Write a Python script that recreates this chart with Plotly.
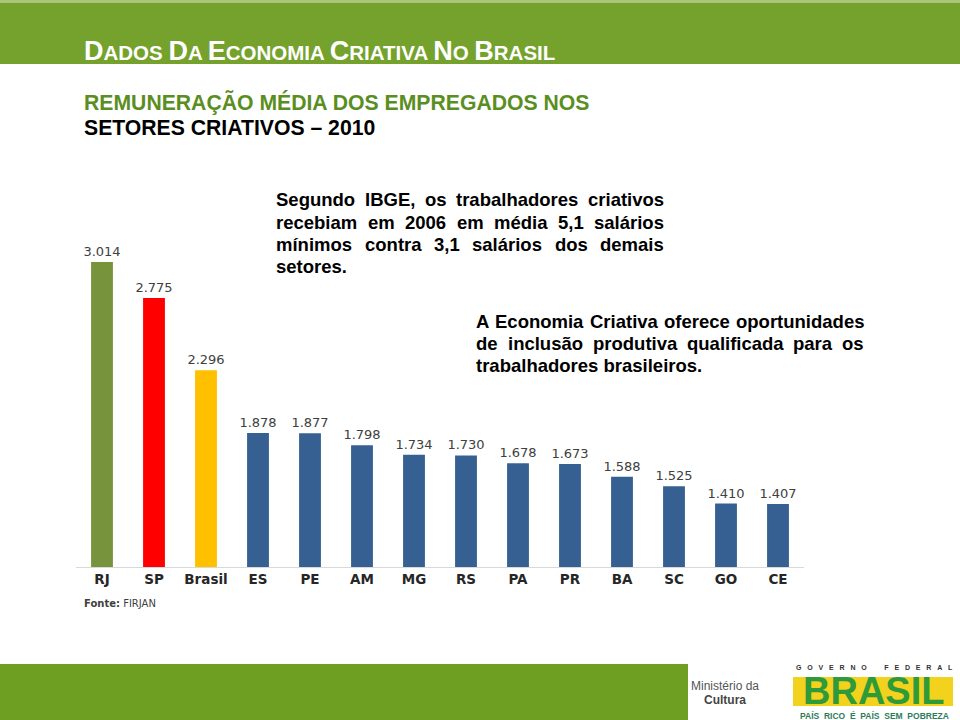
import plotly.graph_objects as go

# ---------------- data ----------------
categories = ["RJ", "SP", "Brasil", "ES", "PE", "AM", "MG", "RS", "PA", "PR", "BA", "SC", "GO", "CE"]
values = [3014, 2775, 2296, 1878, 1877, 1798, 1734, 1730, 1678, 1673, 1588, 1525, 1410, 1407]
bar_colors = ["#77933C", "#FF0000", "#FFC000"] + ["#376092"] * 11

title_text = "DADOS DA ECONOMIA CRIATIVA NO BRASIL"
subtitle_1 = "REMUNERAÇÃO MÉDIA DOS EMPREGADOS NOS"
subtitle_2 = "SETORES CRIATIVOS – 2010"
block1_lines = ["Segundo IBGE, os trabalhadores criativos",
                "recebiam em 2006 em média 5,1 salários",
                "mínimos contra 3,1 salários dos demais",
                "setores."]
block2_lines = ["A Economia Criativa oferece oportunidades",
                "de inclusão produtiva qualificada para os",
                "trabalhadores brasileiros."]
source_text = "<b>Fonte:</b> FIRJAN"

# ---------------- layout geometry (pixels) ----------------
W, H = 960, 720
PL, PR, PT, PB = 76, 804, 240, 567   # plot area
Y_MIN, Y_MAX = 989, 3160


def px(x):
    return (x - PL) / (PR - PL)


def py(y):
    return (PB - y) / (PB - PT)


# Arial Bold advance widths (per 1000 em) -- Liberation Sans Bold is metric compatible
AB = {' ': 278, ',': 278, '.': 278, '-': 333}
AB.update(dict(zip("0123456789", [556] * 10)))
AB.update(dict(zip("abcdefghijklmnopqrstuvwxyz",
                   [556, 611, 556, 611, 556, 333, 611, 611, 278, 278, 556, 278, 889,
                    611, 611, 611, 611, 389, 556, 333, 611, 556, 778, 556, 556, 500])))
AB.update(dict(zip("ABCDEFGHIJKLMNOPQRSTUVWXYZ",
                   [722, 722, 722, 722, 667, 611, 778, 722, 278, 556, 722, 611, 833,
                    722, 778, 667, 778, 722, 667, 611, 722, 667, 944, 667, 667, 611])))
ACC = {'á': 'a', 'à': 'a', 'ã': 'a', 'â': 'a', 'é': 'e', 'ê': 'e', 'í': 'i', 'ó': 'o',
       'õ': 'o', 'ô': 'o', 'ú': 'u', 'ç': 'c'}


def wbold(s, size):
    return sum(AB.get(ACC.get(c, c), 556) for c in s) * size / 1000.0


annotations = []
shapes = []


def add_text(x, y, text, size, color, family="Liberation Sans, Arial", xanchor="left",
             yanchor="middle", **kw):
    annotations.append(dict(x=px(x), y=py(y), xref="paper", yref="paper", xanchor=xanchor,
                            yanchor=yanchor, showarrow=False, text=text,
                            font=dict(family=family, size=size, color=color), **kw))


def add_paragraph(lines, x0, x1, ys, size, color="#000000"):
    for i, (line, y) in enumerate(zip(lines, ys)):
        words = line.split(" ")
        last = i == len(lines) - 1
        if last or len(words) == 1:
            add_text(x0, y, "<b>%s</b>" % line, size, color)
            continue
        widths = [wbold(w, size) for w in words]
        gap = (x1 - x0 - sum(widths)) / (len(words) - 1)
        x = x0
        for w, ww in zip(words, widths):
            add_text(x, y, "<b>%s</b>" % w, size, color)
            x += ww + gap


def rect(x0, x1, y0, y1, color):
    shapes.append(dict(type="rect", xref="paper", yref="paper", x0=px(x0), x1=px(x1),
                       y0=py(y1), y1=py(y0), fillcolor=color, line=dict(width=0), layer="below"))


# top banner
rect(0, W, 0, 64, "#74A22C")
rect(0, W, 0, 3, "#A9C57A")
# bottom bar
rect(0, 688, 664, 720, "#6E9E22")
# logo background
rect(793, 953, 677, 706, "#F2D21C")


def small_caps(s, big, small):
    out = []
    for word in s.split(" "):
        out.append("<span style='font-size:%spx'>%s</span><span style='font-size:%spx'>%s</span>"
                   % (big, word[0], small, word[1:]))
    return " ".join(out)


add_text(82, 51, "<b>%s</b>" % small_caps(title_text, 27, 20.5), 20.5, "#FFFFFF")
add_text(82, 102, "<b>%s</b>" % subtitle_1, 21.2, "#5A8E1F")
add_text(82, 128, "<b>%s</b>" % subtitle_2, 21.2, "#000000")

add_paragraph(block1_lines, 274, 662, [200, 222, 244, 266], 18.5)
add_paragraph(block2_lines, 474, 862, [321, 343, 365], 18.5)

add_text(82, 603, source_text, 10, "#404040", family="DejaVu Sans, Verdana")

# bottom logos
add_text(725, 686, "Ministério da", 12, "#555555", xanchor="center")
add_text(725, 700, "<b>Cultura</b>", 12, "#444444", xanchor="center")
add_text(874, 667, "<b>G&nbsp;&nbsp;&nbsp;O&nbsp;&nbsp;&nbsp;V&nbsp;&nbsp;&nbsp;E&nbsp;&nbsp;&nbsp;R&nbsp;&nbsp;&nbsp;N&nbsp;&nbsp;&nbsp;O"
         "&nbsp;&nbsp;&nbsp;&nbsp;&nbsp;&nbsp;&nbsp;&nbsp;&nbsp;F&nbsp;&nbsp;&nbsp;E&nbsp;&nbsp;&nbsp;D&nbsp;&nbsp;&nbsp;E&nbsp;&nbsp;&nbsp;R&nbsp;&nbsp;&nbsp;A&nbsp;&nbsp;&nbsp;L</b>",
         7, "#333333", xanchor="center")
add_text(873, 691, "<b>BRASIL</b>", 38, "#2F9A3A", xanchor="center", height=28)
add_text(874, 716, "<b>PAÍS&nbsp;&nbsp;RICO&nbsp;&nbsp;É&nbsp;&nbsp;PAÍS&nbsp;&nbsp;SEM&nbsp;&nbsp;POBREZA</b>",
         8.5, "#2E7D5A", xanchor="center")

fig = go.Figure()
fig.add_trace(go.Bar(
    x=categories, y=values,
    marker=dict(color=bar_colors, line=dict(width=0)),
    texttemplate="%{y:,.0f}", textposition="outside", cliponaxis=False, constraintext="none",
    textfont=dict(family="DejaVu Sans, Verdana", size=13, color="#404040"),
    hoverinfo="skip",
))

fig.update_layout(
    width=W, height=H,
    margin=dict(l=PL, r=W - PR, t=PT, b=H - PB, pad=0),
    paper_bgcolor="#FFFFFF", plot_bgcolor="rgba(0,0,0,0)",
    separators=",.",
    bargap=0.58,
    showlegend=False,
    xaxis=dict(showgrid=False, zeroline=False, showline=True, linecolor="#D9D9D9", linewidth=1,
               ticks="", tickfont=dict(family="DejaVu Sans, Verdana", size=13.5, color="#262626"),
               tickprefix="<b>", ticksuffix="</b>", fixedrange=True),
    yaxis=dict(range=[Y_MIN, Y_MAX], visible=False, fixedrange=True),
    annotations=annotations,
    shapes=shapes,
)

fig.write_html("out.html", config={"displayModeBar": False},
               post_script="document.body.style.margin='0';document.body.style.overflow='hidden';")
